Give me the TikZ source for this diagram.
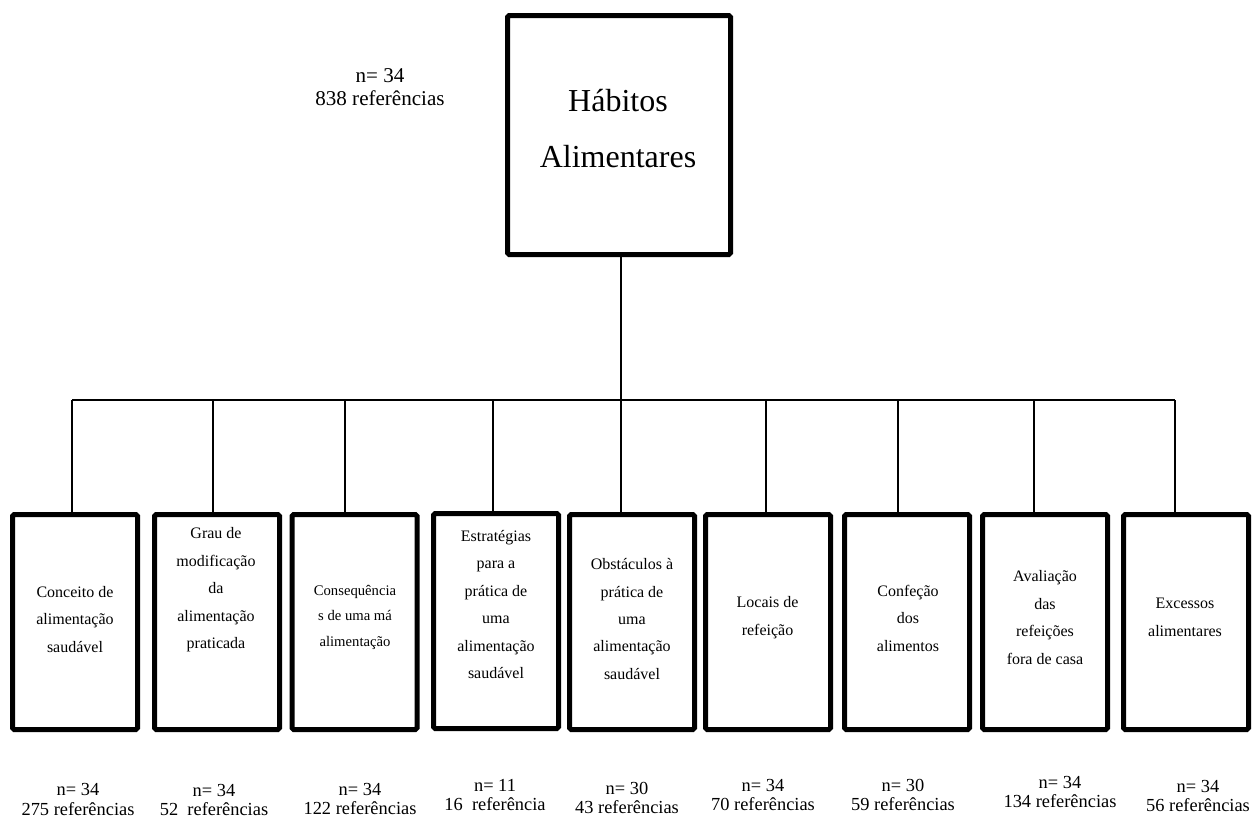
\documentclass[tikz,border=0pt]{standalone}
\usepackage{fontspec}
\setmainfont{Liberation Serif}
\begin{document}
\begin{tikzpicture}[x=0.75pt,y=-0.75pt,
  mainbox/.style={draw=black,line width=3.75pt,rounded corners=1.2pt,minimum width=167.25pt,minimum height=179.25pt,inner sep=0pt},
  catbox/.style={draw=black,line width=3.75pt,rounded corners=1.2pt,minimum width=93.75pt,minimum height=161.25pt,inner sep=0pt},
  cattext/.style={align=center,inner sep=0pt,font=\fontsize{12pt}{20.6pt}\selectfont},
  smalltext/.style={align=center,inner sep=0pt,font=\fontsize{11pt}{19.1pt}\selectfont},
  cntlabel/.style={align=center,inner sep=0pt,font=\fontsize{13.8pt}{14.4pt}\selectfont},
  toplabel/.style={align=center,inner sep=0pt,font=\fontsize{15.8pt}{17.3pt}\selectfont},
  maintext/.style={align=center,inner sep=0pt,font=\fontsize{24pt}{42pt}\selectfont},
  conn/.style={draw=black,line width=1.3pt}]
\useasboundingbox (0,0) rectangle (1252,818);
% main box
\node[mainbox] (top) at (619,135) {};
\node[maintext] (toptext) at (618,129) {Hábitos\\Alimentares};
\node[toplabel] (topcount) at (380,87) {n= 34\\838 referências};
% category boxes
\node[catbox] (b1) at (75,622) {};
\node[catbox] (b2) at (217,622) {};
\node[catbox] (b3) at (354.5,622) {};
\node[catbox] (b4) at (496,621) {};
\node[catbox] (b5) at (632,622) {};
\node[catbox] (b6) at (768,622) {};
\node[catbox] (b7) at (907,622) {};
\node[catbox] (b8) at (1045,622) {};
\node[catbox] (b9) at (1186,622) {};
% box texts
\node[cattext] (t1) at (75,619.5) {Conceito de\\alimentação\\saudável};
\node[cattext] (t2) at (216,590) {Grau de\\modificação\\da\\alimentação\\praticada};
\node[smalltext] (t3) at (355,617) {Consequência\\s de uma má\\alimentação};
\node[cattext] (t4) at (496,604.5) {Estratégias\\para a\\prática de\\uma\\alimentação\\saudável};
\node[cattext] (t5) at (632,619) {Obstáculos à\\prática de\\uma\\alimentação\\saudável};
\node[cattext] (t6) at (767.5,617.5) {Locais de\\refeição};
\node[cattext] (t7) at (908,618) {Confeção\\dos\\alimentos};
\node[cattext] (t8) at (1045,617.5) {Avaliação\\das\\refeições\\fora de casa};
\node[cattext] (t9) at (1185,617.5) {Excessos\\alimentares};
% counts
\node[cntlabel] (l1) at (78,799.5) {n= 34\\275 referências};
\node[cntlabel] (l2) at (214,800) {n= 34\\52\ \ referências};
\node[cntlabel] (l3) at (360,799) {n= 34\\122 referências};
\node[cntlabel] (l4) at (495,795) {n= 11\\16\ \ referência};
\node[cntlabel] (l5) at (627,798) {n= 30\\43 referências};
\node[cntlabel] (l6) at (763,795) {n= 34\\70 referências};
\node[cntlabel] (l7) at (903,795) {n= 30\\59 referências};
\node[cntlabel] (l8) at (1060,792) {n= 34\\134 referências};
\node[cntlabel] (l9) at (1198,796) {n= 34\\56 referências};
% connectors
\coordinate (j1) at (72,400);
\coordinate (j2) at (213,400);
\coordinate (j3) at (345,400);
\coordinate (j4) at (493,400);
\coordinate (j5) at (621,400);
\coordinate (j6) at (766,400);
\coordinate (j7) at (898,400);
\coordinate (j8) at (1034,400);
\coordinate (j9) at (1175,400);
\draw[conn] (j1) -- (j9);
\draw[conn] (top.south -| j5) -- (j5);
\foreach \i in {1,...,9}{
  \draw[conn] (j\i) -- (j\i |- b\i.north);
}
\end{tikzpicture}
\end{document}
